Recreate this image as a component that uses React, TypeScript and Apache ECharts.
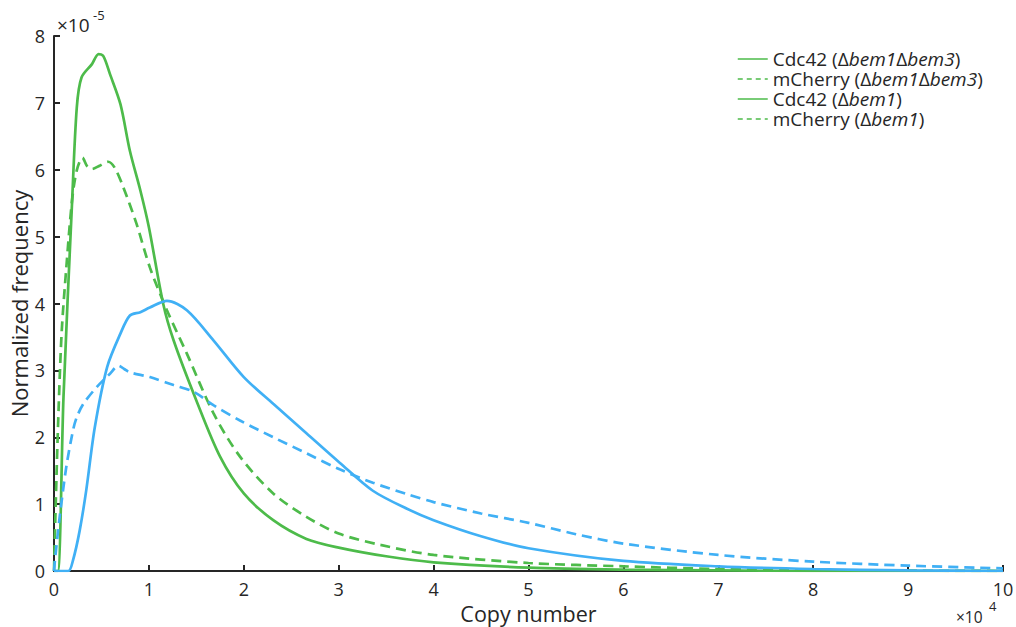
import React, { useEffect, useRef } from "react";
import * as echarts from "echarts";

const GREEN = "#4dbb4a";
const BLUE = "#40b0f5";
const INK = "#262626";
const FONT = "'Open Sans', sans-serif";

// x in units of 1e4 copies, y in units of 1e-5
const cdc42BB3X = [0, 0.04, 0.1, 0.19, 0.24, 0.29, 0.4, 0.47, 0.52, 0.59, 0.7, 0.8, 0.91, 1.0, 1.15, 1.26, 1.5, 1.75, 2.0, 2.31, 2.66, 3.0, 3.5, 4.0, 5.0, 6.0, 7.0, 8.0, 10.0];
const cdc42BB3Y = [0, 0, 2.6, 5.5, 6.93, 7.38, 7.58, 7.73, 7.7, 7.43, 6.98, 6.28, 5.69, 5.14, 4.0, 3.45, 2.55, 1.71, 1.16, 0.76, 0.48, 0.35, 0.22, 0.13, 0.05, 0.02, 0.01, 0, 0];

const mchBB3X = [0, 0.01, 0.04, 0.08, 0.13, 0.19, 0.24, 0.3, 0.35, 0.4, 0.48, 0.57, 0.64, 0.73, 0.87, 1.01, 1.19, 1.4, 1.68, 1.96, 2.31, 2.66, 3.0, 3.44, 4.0, 5.0, 6.0, 7.0, 8.0, 9.0, 10.0];
const mchBB3Y = [0, 0.57, 2.06, 3.55, 4.54, 5.54, 5.99, 6.18, 6.05, 6.01, 6.06, 6.12, 6.03, 5.74, 5.19, 4.54, 3.9, 3.25, 2.36, 1.71, 1.16, 0.81, 0.56, 0.39, 0.24, 0.12, 0.07, 0.03, 0.01, 0.005, 0];

const cdc42B1X = [0, 0.15, 0.2, 0.27, 0.34, 0.43, 0.56, 0.7, 0.8, 0.91, 1.01, 1.19, 1.4, 1.68, 2.0, 2.31, 2.66, 3.01, 3.36, 3.72, 4.0, 4.5, 5.0, 6.0, 7.0, 8.0, 9.0, 10.0];
const cdc42B1Y = [0, 0, 0.16, 0.6, 1.21, 2.15, 3.05, 3.55, 3.82, 3.87, 3.94, 4.04, 3.9, 3.45, 2.9, 2.5, 2.06, 1.62, 1.2, 0.93, 0.76, 0.52, 0.34, 0.15, 0.07, 0.03, 0.01, 0];

const mchB1X = [0, 0.01, 0.06, 0.13, 0.2, 0.24, 0.31, 0.45, 0.59, 0.68, 0.74, 0.8, 1.01, 1.26, 1.47, 1.68, 1.96, 2.31, 2.66, 3.01, 3.36, 3.72, 4.0, 4.5, 5.0, 5.5, 6.0, 7.0, 8.0, 9.0, 10.0];
const mchB1Y = [0, 0.16, 0.81, 1.56, 2.1, 2.3, 2.5, 2.75, 2.95, 3.07, 3.02, 2.97, 2.9, 2.78, 2.68, 2.48, 2.25, 2.0, 1.76, 1.52, 1.32, 1.15, 1.03, 0.86, 0.72, 0.55, 0.41, 0.24, 0.14, 0.08, 0.04];

const seriesNames = [
  "Cdc42 (Δbem1Δbem3)",
  "mCherry (Δbem1Δbem3)",
  "Cdc42 (Δbem1)",
  "mCherry (Δbem1)",
];
const legendRich: Record<string, string> = {
  "Cdc42 (Δbem1Δbem3)": "{n|Cdc42 (Δ}{i|bem1}{n|Δ}{i|bem3}{n|)}",
  "mCherry (Δbem1Δbem3)": "{n|mCherry (Δ}{i|bem1}{n|Δ}{i|bem3}{n|)}",
  "Cdc42 (Δbem1)": "{n|Cdc42 (Δ}{i|bem1}{n|)}",
  "mCherry (Δbem1)": "{n|mCherry (Δ}{i|bem1}{n|)}",
};

const xTicks = [0, 1, 2, 3, 4, 5, 6, 7, 8, 9, 10];
const yTicks = [0, 1, 2, 3, 4, 5, 6, 7, 8];

const zip = (xs: number[], ys: number[]) => xs.map((x, i) => [x, ys[i]]);

export default function App() {
  const ref = useRef<HTMLDivElement>(null);
  useEffect(() => {
    if (!ref.current) return;
    const chart = echarts.init(ref.current, undefined, { renderer: "svg" });
    const mk = (name: string, xs: number[], ys: number[], color: string, dashed: boolean) => ({
      name,
      type: "line",
      data: zip(xs, ys),
      smooth: 0.3,
      symbol: "none",
      lineStyle: { color, width: 2.7, type: dashed ? [10, 6] : "solid" },
      itemStyle: { color },
      z: 2,
    });
    chart.setOption({
      animation: false,
      backgroundColor: "#ffffff",
      grid: { left: 54, right: 13, top: 36, bottom: 56, containLabel: false, outerBoundsMode: "none" },
      xAxis: {
        type: "value",
        min: 0,
        max: 10,
        interval: 1,
        axisLine: { show: true, lineStyle: { color: INK, width: 2 } },
        axisTick: { show: true, inside: true, length: 6, lineStyle: { color: INK, width: 2 } },
        axisLabel: {
          color: INK,
          fontSize: 18,
          fontFamily: FONT,
          margin: 9,
          formatter: (v: number) => (xTicks.includes(v) ? String(v) : ""),
        },
        splitLine: { show: false },
        name: "Copy number",
        nameLocation: "middle",
        nameGap: 30,
        nameTextStyle: { color: INK, fontSize: 21.5, fontFamily: FONT, lineHeight: 21 },
      },
      yAxis: {
        type: "value",
        min: 0,
        max: 8,
        interval: 1,
        axisLine: { show: true, lineStyle: { color: INK, width: 2 } },
        axisTick: { show: true, inside: true, length: 6, lineStyle: { color: INK, width: 2 } },
        axisLabel: {
          color: INK,
          fontSize: 18,
          fontFamily: FONT,
          margin: 9,
          formatter: (v: number) => (yTicks.includes(v) ? String(v) : ""),
        },
        splitLine: { show: false },
        name: "Normalized frequency",
        nameLocation: "middle",
        nameGap: 23,
        nameMoveOverlap: false,
        nameTextStyle: { color: INK, fontSize: 22, fontFamily: FONT, lineHeight: 24 },
      },
      legend: {
        orient: "vertical",
        left: 737,
        top: 49,
        padding: 0,
        itemWidth: 30,
        itemHeight: 14,
        itemGap: 0,
        data: seriesNames.map((n, i) => ({
          name: n,
          itemStyle: { opacity: 0 },
          lineStyle: { color: GREEN, width: 1.5, type: i % 2 === 1 ? [5, 4] : "solid" },
        })),
        formatter: (n: string) => legendRich[n] || n,
        textStyle: {
          color: INK,
          fontFamily: FONT,
          fontSize: 19,
          lineHeight: 20,
          rich: {
            n: { fontSize: 19, fontFamily: FONT, color: INK, lineHeight: 20 },
            i: { fontSize: 19, fontFamily: FONT, color: INK, fontStyle: "italic", lineHeight: 20 },
          },
        },
      },
      graphic: [
        { type: "text", left: 57, top: 15, style: { text: "×10", fontSize: 19, fontFamily: FONT, fill: INK } },
        { type: "text", left: 93, top: 8, style: { text: "-5", fontSize: 13, fontFamily: FONT, fill: INK } },
        { type: "text", x: 956, y: 617, style: { text: "×10", fontSize: 15.5, fontFamily: FONT, fill: INK, verticalAlign: "middle" } },
        { type: "text", x: 989, y: 606, style: { text: "4", fontSize: 13, fontFamily: FONT, fill: INK, verticalAlign: "middle" } },
      ],
      series: [
        mk(seriesNames[0], cdc42BB3X, cdc42BB3Y, GREEN, false),
        mk(seriesNames[1], mchBB3X, mchBB3Y, GREEN, true),
        mk(seriesNames[2], cdc42B1X, cdc42B1Y, BLUE, false),
        mk(seriesNames[3], mchB1X, mchB1Y, BLUE, true),
      ],
    });
    return () => chart.dispose();
  }, []);
  return <div ref={ref} style={{ width: 1016, height: 627, position: "absolute", left: 0, top: 0 }} />;
}
